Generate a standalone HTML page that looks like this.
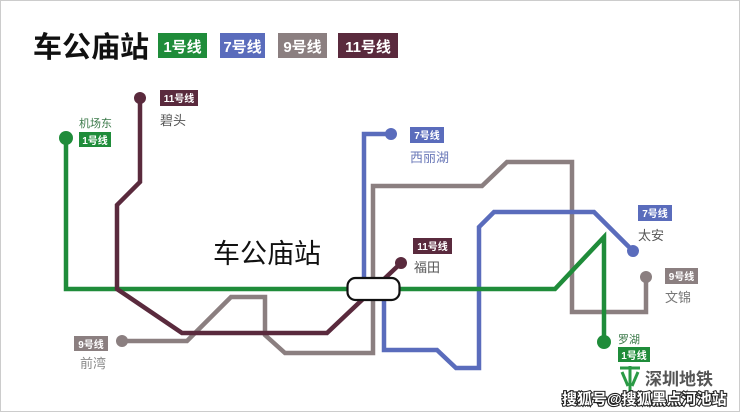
<!DOCTYPE html>
<html><head><meta charset="utf-8"><style>
html,body{margin:0;padding:0;background:#fff}
body{width:740px;height:412px;overflow:hidden;position:relative}
svg{position:absolute;left:0;top:0}
</style></head><body>
<svg width="740" height="412" viewBox="0 0 740 412" xmlns="http://www.w3.org/2000/svg" font-family="Liberation Sans, Noto Sans CJK SC, sans-serif">
<rect x="0.5" y="0.5" width="739" height="411" fill="#fff" stroke="#ccc"/>
<g fill="none" stroke-width="4.5" stroke-linejoin="miter">
<!-- gray 9 -->
<polyline stroke="#8b7f80" points="122,341 187,341 231,297 265,297 265,335 285,353 373,353 373,186 482,186 507,162 572,162 572,312 646,312 646,277"/>
<!-- blue 7 -->
<polyline stroke="#5a6cbc" points="391,134 364,134 364,288"/>
<polyline stroke="#5a6cbc" points="384,288 384,350 437,350 456,368 479,368 479,227 494,212 594,212 632,250"/>
<!-- green 1 -->
<polyline stroke="#1f8c3a" points="66,138 66,289 555,289 604,237 604,342"/>
<!-- maroon 11 -->
<polyline stroke="#5a2a3d" points="140,98 140,182 117,205 117,289 182,333 327,333 401,263"/>
</g>
<circle cx="66" cy="138" r="7" fill="#1f8c3a"/>
<circle cx="604" cy="342" r="7" fill="#1f8c3a"/>
<circle cx="140" cy="98" r="6" fill="#5a2a3d"/>
<circle cx="401" cy="263" r="6" fill="#5a2a3d"/>
<circle cx="391" cy="134" r="6" fill="#5a6cbc"/>
<circle cx="633" cy="251" r="6" fill="#5a6cbc"/>
<circle cx="122" cy="341" r="6" fill="#8b7f80"/>
<circle cx="646" cy="277" r="6" fill="#8b7f80"/>
<rect x="347.5" y="278" width="52" height="22" rx="8" fill="#fff" stroke="#111" stroke-width="2.2"/>

<!-- title -->
<text x="33" y="57" font-size="29" font-weight="bold" fill="#111">车公庙站</text>
<rect x="158" y="33" width="49" height="25" fill="#1f8c3a"/><text x="182.5" y="52" font-size="15" font-weight="bold" fill="#fff" text-anchor="middle">1号线</text>
<rect x="220" y="33" width="45" height="25" fill="#5a6cbc"/><text x="242.5" y="52" font-size="15" font-weight="bold" fill="#fff" text-anchor="middle">7号线</text>
<rect x="278" y="33" width="49" height="25" fill="#8b7f80"/><text x="302.5" y="52" font-size="15" font-weight="bold" fill="#fff" text-anchor="middle">9号线</text>
<rect x="338" y="33" width="60" height="25" fill="#5a2a3d"/><text x="368" y="52" font-size="15" font-weight="bold" fill="#fff" text-anchor="middle">11号线</text>

<text x="213" y="263" font-size="27" fill="#111">车公庙站</text>

<g font-size="10" font-weight="bold" fill="#fff" text-anchor="middle">
<rect x="160" y="90" width="38" height="16" fill="#5a2a3d"/><text x="179" y="102">11号线</text>
<rect x="79" y="132" width="32" height="15" fill="#1f8c3a"/><text x="95" y="144">1号线</text>
<rect x="410" y="127" width="34" height="16" fill="#5a6cbc"/><text x="427" y="139">7号线</text>
<rect x="413" y="238" width="39" height="16" fill="#5a2a3d"/><text x="432.5" y="250">11号线</text>
<rect x="638" y="205" width="34" height="16" fill="#5a6cbc"/><text x="655" y="217">7号线</text>
<rect x="665" y="268" width="33" height="16" fill="#8b7f80"/><text x="681.5" y="280">9号线</text>
<rect x="618" y="347" width="32" height="15" fill="#1f8c3a"/><text x="634" y="359">1号线</text>
<rect x="74" y="336" width="34" height="15" fill="#8b7f80"/><text x="91" y="348">9号线</text>
</g>
<g font-size="13" fill="#555">
<text x="160" y="125">碧头</text>
<text x="79" y="127" font-size="11" fill="#3c7a4a">机场东</text>
<text x="410" y="162" fill="#6a78b8">西丽湖</text>
<text x="414" y="272">福田</text>
<text x="638" y="240">太安</text>
<text x="665" y="302" fill="#777">文锦</text>
<text x="618" y="343" font-size="11" fill="#3c7a4a">罗湖</text>
<text x="80" y="368" fill="#888">前湾</text>
</g>
<!-- logo -->
<g stroke="#2a9a45" stroke-width="3" fill="none">
<line x1="620" y1="368" x2="640" y2="368"/><line x1="630" y1="366" x2="630" y2="392"/><line x1="622" y1="372" x2="628" y2="386"/><line x1="638" y1="372" x2="632" y2="386"/>
</g>
<text x="645" y="385" font-size="17" font-weight="bold" fill="#555">深圳地铁</text>
<text x="562" y="404" font-size="15" font-weight="bold" fill="#fff" stroke="#222" stroke-width="2.2" paint-order="stroke">搜狐号@搜狐黑点河池站</text>
</svg>
</body></html>
